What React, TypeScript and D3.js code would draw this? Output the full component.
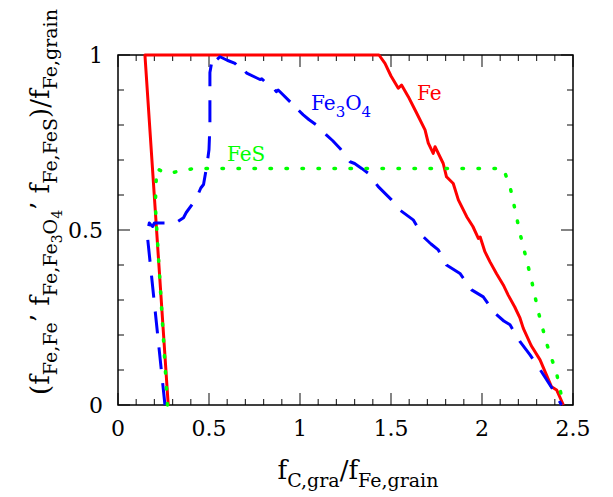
import React from "react";
import * as d3 from "d3";

const feX = [0.276, 0.148, 1.434, 1.467, 1.5, 1.54, 1.558, 1.595, 1.64, 1.687, 1.705, 1.732, 1.742, 1.787, 1.805, 1.842, 1.87, 1.916, 1.95, 1.98, 1.99, 2.016, 2.044, 2.08, 2.117, 2.144, 2.18, 2.209, 2.227, 2.27, 2.319, 2.382, 2.41, 2.447];
const feY = [0, 1, 1, 0.976, 0.94, 0.905, 0.914, 0.881, 0.835, 0.786, 0.748, 0.719, 0.738, 0.69, 0.652, 0.633, 0.586, 0.538, 0.51, 0.476, 0.48, 0.438, 0.409, 0.375, 0.343, 0.314, 0.28, 0.248, 0.219, 0.17, 0.129, 0.052, 0.043, 0];

const fe3o4X = [0.258, 0.16, 0.172, 0.18, 0.19, 0.2, 0.3, 0.33, 0.36, 0.375, 0.41, 0.43, 0.455, 0.47, 0.48, 0.49, 0.5, 0.505, 0.505, 0.52, 0.54, 0.56, 0.6, 0.643, 0.68, 0.69, 0.707, 0.76, 0.78, 0.79, 0.817, 0.85, 0.87, 0.88, 0.89, 0.954, 0.96, 0.975, 0.99, 1.018, 1.05, 1.091, 1.146, 1.18, 1.22, 1.275, 1.3, 1.339, 1.375, 1.43, 1.503, 1.549, 1.622, 1.677, 1.72, 1.76, 1.805, 1.879, 1.943, 2.007, 2.071, 2.12, 2.154, 2.209, 2.264, 2.327, 2.391, 2.437];
const fe3o4Y = [0, 0.49, 0.52, 0.515, 0.51, 0.52, 0.52, 0.525, 0.535, 0.55, 0.575, 0.59, 0.62, 0.63, 0.66, 0.69, 0.73, 0.8, 0.95, 0.995, 0.985, 0.995, 0.985, 0.976, 0.955, 0.96, 0.948, 0.935, 0.93, 0.932, 0.919, 0.91, 0.895, 0.9, 0.895, 0.862, 0.865, 0.85, 0.843, 0.829, 0.815, 0.8, 0.771, 0.755, 0.733, 0.695, 0.69, 0.676, 0.662, 0.624, 0.586, 0.557, 0.529, 0.481, 0.46, 0.443, 0.4, 0.376, 0.329, 0.309, 0.262, 0.24, 0.229, 0.181, 0.143, 0.095, 0.043, 0];

const fesX = [0.272, 0.205, 0.212, 0.25, 0.29, 0.35, 0.43, 2.117, 2.154, 2.172, 2.209, 2.272, 2.309, 2.355, 2.41, 2.447];
const fesY = [0, 0.57, 0.676, 0.665, 0.662, 0.671, 0.676, 0.676, 0.624, 0.581, 0.49, 0.357, 0.267, 0.176, 0.09, 0];

const xTickLabels = ["0", "0.5", "1", "1.5", "2", "2.5"];
const xTickValues = [0, 0.5, 1, 1.5, 2, 2.5];
const yTickLabels = ["0", "0.5", "1"];
const yTickValues = [0, 0.5, 1];

type Seg = { t: string; l: number };
const yLabelSegs: Seg[] = [
  { t: "(f", l: 0 }, { t: "Fe,Fe", l: 1 }, { t: "’ f", l: 0 }, { t: "Fe,Fe", l: 1 }, { t: "3", l: 2 }, { t: "O", l: 1 }, { t: "4", l: 2 },
  { t: "’ f", l: 0 }, { t: "Fe,FeS", l: 1 }, { t: ")/f", l: 0 }, { t: "Fe,grain", l: 1 },
];
const xLabelSegs: Seg[] = [
  { t: "f", l: 0 }, { t: "C,gra", l: 1 }, { t: "/f", l: 0 }, { t: "Fe,grain", l: 1 },
];
const fe3o4Segs: Seg[] = [{ t: "Fe", l: 0 }, { t: "3", l: 1 }, { t: "O", l: 0 }, { t: "4", l: 1 }];

const FONT = "'DejaVu Serif', serif";

function renderSegs(segs: Seg[], sizes: number[], offs: number[]) {
  let prev = 0;
  return segs.map((s, i) => {
    const dy = offs[s.l] - offs[prev];
    prev = s.l;
    return (
      <tspan key={i} dy={dy} fontSize={sizes[s.l]} style={{ whiteSpace: "pre" }}>
        {s.t}
      </tspan>
    );
  });
}

export default function App() {
  const W = 613, H = 497;
  const x = d3.scaleLinear().domain([0, 2.5]).range([118, 573]);
  const y = d3.scaleLinear().domain([0, 1]).range([405, 55]);
  const line = d3.line<[number, number]>().x((d) => x(d[0])).y((d) => y(d[1]));
  const pts = (xs: number[], ys: number[]) => xs.map((v, i) => [v, ys[i]] as [number, number]);

  const minorX = d3.range(0, 2.5001, 0.1);
  const minorY = d3.range(0, 1.0001, 0.1);
  const isMajor = (v: number) => Math.abs(v * 2 - Math.round(v * 2)) < 1e-6;
  const [x0, x1] = x.range();
  const [y0, y1] = y.range();

  return (
    <svg width={W} height={H} style={{ position: "absolute", left: 0, top: 0, background: "#fff" }} fontFamily={FONT}>
      <rect x={0} y={0} width={W} height={H} fill="#fff" />
      <g stroke="#333" strokeWidth={1.2}>
        {minorX.map((v, i) => {
          const L = isMajor(v) ? 12 : 6;
          return (
            <g key={"xt" + i}>
              <line x1={x(v)} x2={x(v)} y1={y0} y2={y0 - L} />
              <line x1={x(v)} x2={x(v)} y1={y1} y2={y1 + L} />
            </g>
          );
        })}
        {minorY.map((v, i) => {
          const L = isMajor(v) ? 12 : 6;
          return (
            <g key={"yt" + i}>
              <line x1={x0} x2={x0 + L} y1={y(v)} y2={y(v)} />
              <line x1={x1} x2={x1 - L} y1={y(v)} y2={y(v)} />
            </g>
          );
        })}
      </g>
      <rect x={x0} y={y1} width={x1 - x0} height={y0 - y1} fill="none" stroke="#000" strokeWidth={1.5} />

      <path d={line(pts(feX, feY)) || ""} fill="none" stroke="#ff0000" strokeWidth={3} strokeLinejoin="round" />
      <path d={line(pts(fe3o4X, fe3o4Y)) || ""} fill="none" stroke="#0000ff" strokeWidth={3} strokeDasharray="22,14" strokeLinejoin="round" />
      <path d={line(pts(fesX, fesY)) || ""} fill="none" stroke="#00ff00" strokeWidth={3.5} strokeDasharray="1.5,14.5" strokeLinecap="round" />

      {xTickValues.map((v, i) => (
        <text key={"xl" + i} x={x(v)} y={436} fontSize={22} textAnchor="middle" fill="#000">
          {xTickLabels[i]}
        </text>
      ))}
      {yTickValues.map((v, i) => (
        <text key={"yl" + i} x={103} y={y(v) + 8} fontSize={22} textAnchor="end" fill="#000">
          {yTickLabels[i]}
        </text>
      ))}

      <text x={358} y={479} textAnchor="middle" fill="#000">
        {renderSegs(xLabelSegs, [26, 19, 14], [0, 8, 13])}
      </text>
      <text transform="translate(49,202) rotate(-90)" textAnchor="middle" fill="#000">
        {renderSegs(yLabelSegs, [26, 19, 14], [0, 8, 13])}
      </text>

      <text x={417} y={100} fontSize={20} fill="#ff0000">Fe</text>
      <text x={311} y={110} fill="#0000ff">
        {renderSegs(fe3o4Segs, [20, 15], [0, 7])}
      </text>
      <text x={227} y={161} fontSize={20} fill="#00ff00">FeS</text>
    </svg>
  );
}
